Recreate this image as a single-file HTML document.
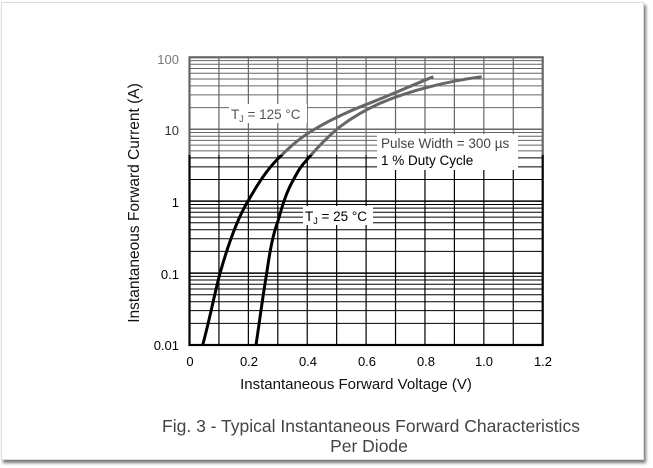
<!DOCTYPE html>
<html><head><style>
html,body{margin:0;padding:0;background:#fff;}
body{width:653px;height:468px;position:relative;overflow:hidden;font-family:"Liberation Sans",sans-serif;}
#frame{position:absolute;left:1px;top:2px;width:641px;height:456px;background:#fff;border:1px solid #ddd;box-shadow:2px 3px 3px #777;}
svg{position:absolute;left:0;top:0;}
</style></head><body>
<div id="frame"></div>
<svg id="s" width="653" height="468" xmlns="http://www.w3.org/2000/svg" font-family="Liberation Sans, sans-serif">
<defs>
<clipPath id="top"><rect x="0" y="0" width="653" height="155"/></clipPath>
<clipPath id="bot"><rect x="0" y="155" width="653" height="313"/></clipPath>
</defs>
<g id="gb" clip-path="url(#bot)" stroke="#000"></g>
<g id="gt" clip-path="url(#top)" stroke="#666"></g>
<g font-size="13.5">
<rect x="229" y="104" width="78" height="19" fill="#fff"/>
<text x="231" y="119" fill="#555">T<tspan font-size="9" dy="3">J</tspan><tspan dy="-3"> = 125 °C</tspan></text>
<rect x="377" y="134" width="141" height="36" fill="#fff"/>
<text x="381" y="148" fill="#444">Pulse Width = 300 µs</text>
<text x="381" y="165" fill="#000">1 % Duty Cycle</text>
<rect x="303" y="206" width="70" height="19" fill="#fff"/>
<text x="305" y="221" fill="#000">T<tspan font-size="9" dy="3">J</tspan><tspan dy="-3"> = 25 °C</tspan></text>
</g>
<g font-size="13" text-anchor="end">
<text x="179" y="64" fill="#777">100</text>
<text x="179" y="135" fill="#333">10</text>
<text x="179" y="207">1</text>
<text x="179" y="279">0.1</text>
<text x="179" y="350">0.01</text>
</g>
<g font-size="13" text-anchor="middle" fill="#000">
<text x="190" y="366">0</text><text x="249" y="366">0.2</text><text x="308" y="366">0.4</text>
<text x="367" y="366">0.6</text><text x="426" y="366">0.8</text><text x="484" y="366">1.0</text><text x="543" y="366">1.2</text>
</g>
<text x="356" y="389" font-size="15" text-anchor="middle" fill="#111">Instantaneous Forward Voltage (V)</text>
<text x="139" y="203" font-size="15.5" text-anchor="middle" fill="#111" transform="rotate(-90 139 203)">Instantaneous Forward Current (A)</text>
<text x="371" y="432" font-size="17.5" text-anchor="middle" fill="#444">Fig. 3 - Typical Instantaneous Forward Characteristics</text>
<text x="369" y="452" font-size="17.5" text-anchor="middle" fill="#444">Per Diode</text>
</svg>
<script>
var L=189.5,R=542.7,T=57.3,B=345,D=(B-T)/4;
var g="";
for(var i=1;i<12;i++){var x=L+(R-L)*i/12;g+='<line x1="'+x+'" y1="'+T+'" x2="'+x+'" y2="'+B+'" stroke-width="1.2"/>';}
for(var d=0;d<4;d++){for(var m=1;m<10;m++){var y=B-D*d-D*Math.log10(m);if(m==1&&d==0)continue;g+='<line x1="'+L+'" y1="'+y+'" x2="'+R+'" y2="'+y+'" stroke-width="'+(m==1?1.5:1)+'"/>';}}
g+='<rect x="'+L+'" y="'+T+'" width="'+(R-L)+'" height="'+(B-T)+'" fill="none" stroke-width="2.2"/>';
var c1="M202.7,345 C210,318 214,296 220,273.3 C228,245 236,222 246.7,203.3 C256,187 266,170 280,156.7 C292,145 300,138 313.3,130 C333,118 352,110 373.3,101.7 C395,93 413,85 433.3,76.7";
var c2="M256,345 C260,318 263,295 266.7,273.3 C270,250 273,234 278.3,220 C283,203 287,191 293.3,180 C298,171 301,166 306.7,160 C317,148 327,137 340,126.7 C353,117 365,110 380,103.3 C397,96 413,91 430,86.7 C448,82 465,79 481.7,76.7";
g+='<path d="'+c1+'" fill="none" stroke-width="3"/><path d="'+c2+'" fill="none" stroke-width="3"/>';
document.getElementById("gb").innerHTML=g;
document.getElementById("gt").innerHTML=g;
</script>
</body></html>
